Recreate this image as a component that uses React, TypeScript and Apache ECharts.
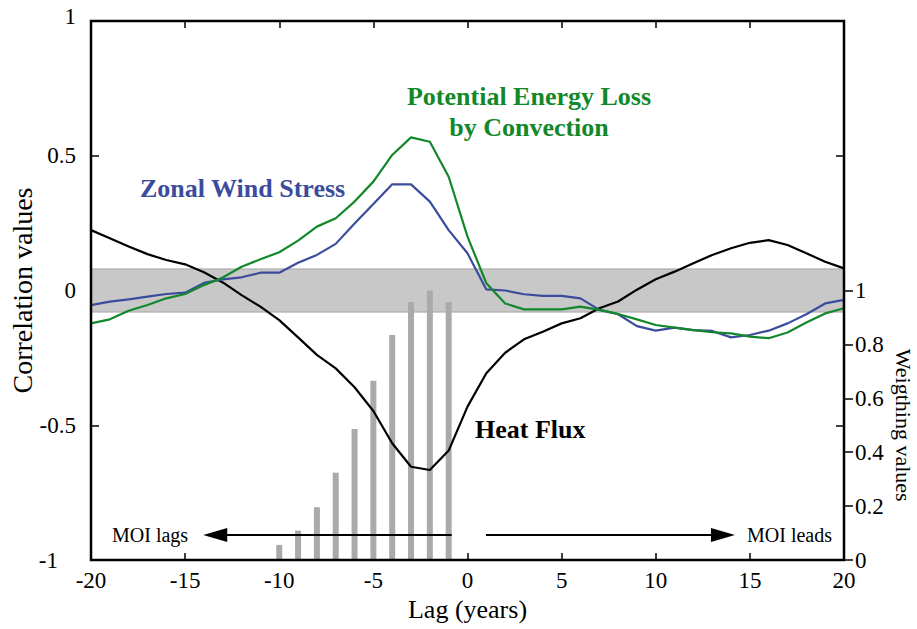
import React, { useEffect, useRef } from "react";
import * as echarts from "echarts";

// Lag in years
const lags = [
  -20, -19, -18, -17, -16, -15, -14, -13, -12, -11, -10, -9, -8, -7, -6, -5, -4, -3, -2, -1,
  0, 1, 2, 3, 4, 5, 6, 7, 8, 9, 10, 11, 12, 13, 14, 15, 16, 17, 18, 19, 20,
];

// Correlation with the MOI
const heatFlux = [
  0.224, 0.194, 0.163, 0.135, 0.113, 0.097, 0.068, 0.03, -0.017, -0.06, -0.11, -0.174, -0.239,
  -0.289, -0.359, -0.447, -0.567, -0.654, -0.666, -0.594, -0.431, -0.307, -0.231, -0.181, -0.153,
  -0.122, -0.103, -0.066, -0.041, 0.003, 0.042, 0.07, 0.101, 0.132, 0.157, 0.177, 0.187, 0.169,
  0.138, 0.107, 0.082,
];
const windStress = [
  -0.054, -0.041, -0.033, -0.023, -0.013, -0.008, 0.028, 0.041, 0.049, 0.066, 0.066, 0.103, 0.132,
  0.173, 0.249, 0.321, 0.394, 0.394, 0.33, 0.224, 0.138, 0.004, 0.0, -0.014, -0.02, -0.02, -0.029,
  -0.072, -0.088, -0.132, -0.149, -0.138, -0.147, -0.15, -0.174, -0.165, -0.149, -0.122, -0.088,
  -0.048, -0.035,
];
const energyLoss = [
  -0.122, -0.107, -0.075, -0.054, -0.029, -0.013, 0.02, 0.048, 0.088, 0.116, 0.142, 0.185, 0.237,
  0.268, 0.33, 0.404, 0.503, 0.568, 0.552, 0.422, 0.2, 0.027, -0.048, -0.07, -0.07, -0.07, -0.06,
  -0.072, -0.087, -0.107, -0.128, -0.138, -0.147, -0.155, -0.159, -0.171, -0.177, -0.156, -0.119,
  -0.085, -0.066,
];

// Weights applied at negative lags
const weightLags = [-10, -9, -8, -7, -6, -5, -4, -3, -2, -1];
const weights = [0.056, 0.109, 0.196, 0.324, 0.486, 0.665, 0.835, 0.957, 1.0, 0.957];

// Significance band
const bandLow = -0.08;
const bandHigh = 0.08;

// Lag/lead arrows: [start lag, end lag] at a correlation level
const arrowLevel = -0.907;
const lagsArrow = [-0.84, -13.4];
const leadsArrow = [0.98, 13.57];

const SERIF = "'Liberation Serif', 'Times New Roman', serif";
const GREEN = "#12882a";
const BLUE = "#3b4c9c";

export default function App() {
  const ref = useRef<HTMLDivElement>(null);

  useEffect(() => {
    if (!ref.current) return;
    const chart = echarts.init(ref.current, undefined, { renderer: "svg" });

    const pair = (ys: number[]) => lags.map((x, i) => [x, ys[i]]);
    const tickLabel = { fontFamily: SERIF, fontSize: 23, color: "#000" };
    const tickLine = { color: "#000", width: 1.5 };
    const noLine = { show: false, onZero: false };

    chart.setOption({
      animation: false,
      backgroundColor: "#fff",
      grid: [
        {
          left: 91, right: 73, top: 21, bottom: 69,
          show: true, borderColor: "#000", borderWidth: 2.5, backgroundColor: "transparent",
          outerBoundsMode: "none", containLabel: false, z: 10,
        },
        { left: 91, right: 73, top: 290.5, bottom: 69, outerBoundsMode: "none", containLabel: false },
      ],
      xAxis: [
        {
          gridIndex: 0,
          type: "value",
          min: -20,
          max: 20,
          interval: 5,
          position: "bottom",
          axisLine: noLine,
          axisTick: { inside: true, length: 7, lineStyle: tickLine },
          axisLabel: { ...tickLabel, margin: 9 },
          splitLine: { show: false },
          name: "Lag (years)",
          nameLocation: "middle",
          nameGap: 34,
          nameTextStyle: { fontFamily: SERIF, fontSize: 26, color: "#000" },
        },
        {
          gridIndex: 0,
          type: "value",
          min: -20,
          max: 20,
          interval: 5,
          position: "top",
          axisLine: noLine,
          axisTick: { inside: true, length: 7, lineStyle: tickLine },
          axisLabel: { show: false },
          splitLine: { show: false },
        },
        { gridIndex: 1, type: "value", min: -20, max: 20, show: false, axisLine: noLine },
      ],
      yAxis: [
        {
          gridIndex: 0,
          type: "value",
          min: -1,
          max: 1,
          interval: 0.5,
          position: "left",
          axisLine: noLine,
          axisTick: { inside: true, length: 8, lineStyle: tickLine },
          axisLabel: {
            ...tickLabel,
            margin: 15,
            formatter: (v: number) => (v === 1 ? "{top|1}" : v === -1 ? "{bot|-1}" : String(v)),
            rich: {
              top: { ...tickLabel, padding: [0, 0, 10, 0] },
              bot: { ...tickLabel, padding: [0, 18, 0, 0] },
            },
          },
          splitLine: { show: false },
          name: "Correlation values",
          nameLocation: "middle",
          nameGap: 55,
          nameMoveOverlap: false,
          nameTextStyle: { fontFamily: SERIF, fontSize: 28, color: "#000" },
        },
        {
          gridIndex: 0,
          type: "value",
          min: -1,
          max: 1,
          interval: 0.5,
          position: "right",
          axisLine: noLine,
          axisTick: { inside: true, length: 8, lineStyle: tickLine },
          axisLabel: { show: false },
          splitLine: { show: false },
        },
        {
          gridIndex: 1,
          type: "value",
          min: 0,
          max: 1,
          interval: 0.2,
          position: "right",
          axisLine: noLine,
          axisTick: { inside: false, length: 9, lineStyle: tickLine },
          axisLabel: { ...tickLabel, margin: 11 },
          splitLine: { show: false },
          name: "Weigthing values",
          nameLocation: "middle",
          nameGap: 48,
          nameMoveOverlap: false,
          nameRotate: -90,
          nameTextStyle: { fontFamily: SERIF, fontSize: 22, color: "#000" },
        },
      ],
      series: [
        {
          name: "band",
          type: "line",
          xAxisIndex: 0,
          yAxisIndex: 0,
          data: [],
          z: 1,
          silent: true,
          markArea: {
            silent: true,
            itemStyle: { color: "#c8c8c8", borderColor: "#a4a4a4", borderWidth: 1 },
            data: [[{ yAxis: bandLow }, { yAxis: bandHigh }]],
          },
        },
        {
          name: "Weights",
          type: "bar",
          xAxisIndex: 2,
          yAxisIndex: 2,
          barWidth: 6,
          z: 2,
          itemStyle: { color: "#aaaaaa" },
          data: weightLags.map((x, i) => [x, weights[i]]),
        },
        {
          name: "Heat Flux",
          type: "line",
          xAxisIndex: 0,
          yAxisIndex: 0,
          showSymbol: false,
          z: 3,
          lineStyle: { color: "#000", width: 2.2 },
          data: pair(heatFlux),
        },
        {
          name: "Zonal Wind Stress",
          type: "line",
          xAxisIndex: 0,
          yAxisIndex: 0,
          showSymbol: false,
          z: 4,
          lineStyle: { color: BLUE, width: 2.2 },
          data: pair(windStress),
        },
        {
          name: "Potential Energy Loss",
          type: "line",
          xAxisIndex: 0,
          yAxisIndex: 0,
          showSymbol: false,
          z: 5,
          lineStyle: { color: GREEN, width: 2.2 },
          data: pair(energyLoss),
        },
        {
          name: "arrows",
          type: "line",
          xAxisIndex: 0,
          yAxisIndex: 0,
          data: [],
          z: 6,
          markLine: {
            silent: true,
            symbol: ["none", "triangle"],
            symbolSize: [14, 24],
            label: { show: false },
            lineStyle: { color: "#000", width: 2, type: "solid" },
            data: [
              [{ coord: [lagsArrow[0], arrowLevel] }, { coord: [lagsArrow[1], arrowLevel] }],
              [{ coord: [leadsArrow[0], arrowLevel] }, { coord: [leadsArrow[1], arrowLevel] }],
            ],
          },
        },
      ],
      graphic: [
        {
          type: "text",
          x: 529,
          y: 111.5,
          style: {
            text: "Potential Energy Loss\nby Convection",
            font: `bold 26px ${SERIF}`,
            fill: GREEN,
            align: "center",
            verticalAlign: "middle",
            lineHeight: 31,
          },
          z: 20,
        },
        {
          type: "text",
          x: 140,
          y: 188,
          style: { text: "Zonal Wind Stress", font: `bold 26px ${SERIF}`, fill: BLUE, verticalAlign: "middle" },
          z: 20,
        },
        {
          type: "text",
          x: 475,
          y: 429,
          style: { text: "Heat Flux", font: `bold 26px ${SERIF}`, fill: "#000", verticalAlign: "middle" },
          z: 20,
        },
        {
          type: "text",
          x: 112,
          y: 535,
          style: { text: "MOI lags", font: `20px ${SERIF}`, fill: "#000", verticalAlign: "middle" },
          z: 20,
        },
        {
          type: "text",
          x: 832,
          y: 535,
          style: { text: "MOI leads", font: `20px ${SERIF}`, fill: "#000", align: "right", verticalAlign: "middle" },
          z: 20,
        },
      ],
    });

    return () => chart.dispose();
  }, []);

  return <div ref={ref} style={{ width: 917, height: 629, position: "absolute", left: 0, top: 0 }} />;
}
